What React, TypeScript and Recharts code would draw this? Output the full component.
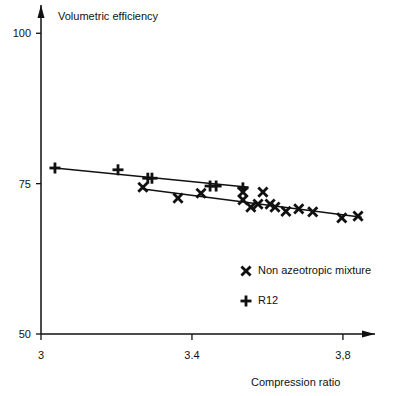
import { ScatterChart, Scatter, XAxis, YAxis, ReferenceDot } from 'recharts'

// ── datos ──────────────────────────────────────────────────
const r12X = [3.037, 3.204, 3.283, 3.294, 3.448, 3.464, 3.535]
const r12Y = [77.6, 77.3, 75.9, 75.9, 74.6, 74.6, 74.3]

const mixX = [3.27, 3.363, 3.424, 3.535, 3.535, 3.556, 3.575, 3.588, 3.607, 3.62, 3.649, 3.683, 3.72, 3.797, 3.84]
const mixY = [74.4, 72.6, 73.4, 73.6, 72.3, 71.1, 71.6, 73.6, 71.6, 71.1, 70.4, 70.8, 70.3, 69.3, 69.6]

// rectas de ajuste (extremos)
const fitR12X = [3.037, 3.55]
const fitR12Y = [77.6, 74.4]
const fitMixX = [3.27, 3.85]
const fitMixY = [74.1, 69.4]

const xTicks = [3, 3.4, 3.8]
const xTickLabels = ['3', '3.4', '3,8']
const yTicks = [50, 75, 100]

const X_MAX = 3.885
const Y_MAX = 104.7

const zip = (xs: number[], ys: number[]) => xs.map((x, i) => ({ x, y: ys[i] }))
const r12 = zip(r12X, r12Y)
const mix = zip(mixX, mixY)
const fitR12 = zip(fitR12X, fitR12Y)
const fitMix = zip(fitMixX, fitMixY)

const INK = '#111'
const FONT = "'Liberation Sans', Arial, sans-serif"

function Plus({ cx, cy }: { cx?: number; cy?: number }) {
  if (cx == null || cy == null) return <g />
  return (
    <g fill={INK}>
      <rect x={cx - 5.5} y={cy - 1.4} width={11} height={2.8} />
      <rect x={cx - 1.4} y={cy - 5.5} width={2.8} height={11} />
    </g>
  )
}

function Cross({ cx, cy }: { cx?: number; cy?: number }) {
  if (cx == null || cy == null) return <g />
  const s = 3.6
  return (
    <g stroke={INK} strokeWidth={2.8} strokeLinecap="square">
      <line x1={cx - s} y1={cy - s} x2={cx + s} y2={cy + s} />
      <line x1={cx - s} y1={cy + s} x2={cx + s} y2={cy - s} />
    </g>
  )
}

const ArrowUp = ({ cx, cy }: { cx?: number; cy?: number }) =>
  cx == null || cy == null ? <g /> : <path d={`M${cx},${cy} L${cx - 3.5},${cy + 13} L${cx + 3.5},${cy + 13} Z`} fill={INK} />

const ArrowRight = ({ cx, cy }: { cx?: number; cy?: number }) =>
  cx == null || cy == null ? <g /> : <path d={`M${cx},${cy} L${cx - 13},${cy - 3.5} L${cx - 13},${cy + 3.5} Z`} fill={INK} />

const Empty = () => <g />

export default function App() {
  const tick = { fill: INK, fontSize: 11, fontFamily: FONT }
  return (
    <div style={{ position: 'absolute', left: 0, top: 0, width: 404, height: 396, background: '#fff' }}>
      <ScatterChart width={404} height={396} margin={{ top: 5, right: 29, bottom: 32, left: 8 }}>
        <XAxis type="number" dataKey="x" domain={[3, X_MAX]} ticks={xTicks} allowDataOverflow height={30}
          tickFormatter={(v: number) => xTickLabels[xTicks.indexOf(v)] ?? String(v)}
          tick={tick} tickSize={6} tickMargin={11}
          axisLine={{ stroke: INK, strokeWidth: 1.5 }} tickLine={{ stroke: INK, strokeWidth: 1.3 }} />
        <YAxis type="number" dataKey="y" domain={[50, Y_MAX]} ticks={yTicks} allowDataOverflow width={33}
          tick={tick} tickSize={5} tickMargin={5}
          axisLine={{ stroke: INK, strokeWidth: 1.5 }} tickLine={{ stroke: INK, strokeWidth: 1.3 }} />
        <ReferenceDot x={3} y={Y_MAX} ifOverflow="visible" shape={ArrowUp} />
        <ReferenceDot x={X_MAX} y={50} ifOverflow="visible" shape={ArrowRight} />
        <Scatter data={fitR12} line={{ stroke: INK, strokeWidth: 1.5 }} shape={Empty} isAnimationActive={false} />
        <Scatter data={fitMix} line={{ stroke: INK, strokeWidth: 1.5 }} shape={Empty} isAnimationActive={false} />
        <Scatter data={r12} shape={Plus} isAnimationActive={false} />
        <Scatter data={mix} shape={Cross} isAnimationActive={false} />
      </ScatterChart>

      {/* títulos de ejes */}
      <div style={{ position: 'absolute', left: 58, top: 10, fontFamily: FONT, fontSize: 11, color: INK }}>
        Volumetric efficiency
      </div>
      <div style={{ position: 'absolute', left: 251, top: 376, fontFamily: FONT, fontSize: 11, color: INK }}>
        Compression ratio
      </div>

      {/* leyenda */}
      <div style={{ position: 'absolute', left: 240, top: 263, fontFamily: FONT, fontSize: 11, color: INK, lineHeight: '15px' }}>
        <div style={{ display: 'flex', alignItems: 'center', gap: 6 }}>
          <svg width={12} height={12}><Cross cx={6} cy={6} /></svg>
          <span>Non azeotropic mixture</span>
        </div>
        <div style={{ display: 'flex', alignItems: 'center', gap: 6, marginTop: 15 }}>
          <svg width={12} height={12}><Plus cx={6} cy={6} /></svg>
          <span>R12</span>
        </div>
      </div>
    </div>
  )
}
